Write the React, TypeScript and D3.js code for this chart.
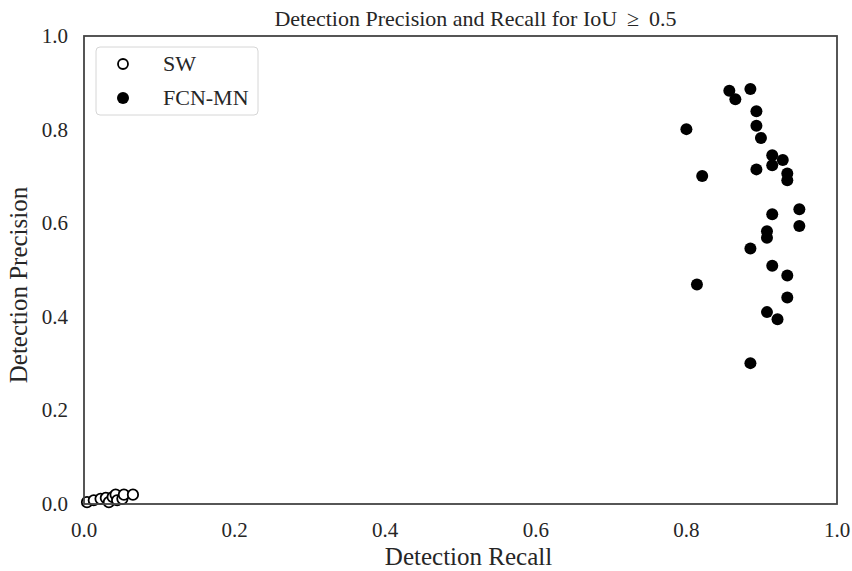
import * as d3 from 'd3';
import { useEffect, useRef } from 'react';

// SW (hollow markers): [recall, precision]
const swRecall = [0.004, 0.013, 0.022, 0.029, 0.033, 0.038, 0.042, 0.044, 0.051, 0.053, 0.065];
const swPrecision = [0.004, 0.008, 0.011, 0.013, 0.004, 0.015, 0.020, 0.008, 0.011, 0.020, 0.020];

// FCN-MN (filled markers)
const fcnRecall = [
  0.857, 0.865, 0.885, 0.893, 0.800, 0.893, 0.899, 0.914, 0.928, 0.914, 0.893, 0.821,
  0.934, 0.934, 0.950, 0.950, 0.914, 0.907, 0.907, 0.885, 0.914, 0.934, 0.814, 0.934,
  0.907, 0.921, 0.885,
];
const fcnPrecision = [
  0.883, 0.865, 0.887, 0.839, 0.801, 0.808, 0.782, 0.745, 0.735, 0.724, 0.715, 0.701,
  0.706, 0.692, 0.630, 0.594, 0.619, 0.583, 0.569, 0.546, 0.509, 0.488, 0.469, 0.441,
  0.410, 0.395, 0.301,
];

const ticks = [0, 0.2, 0.4, 0.6, 0.8, 1.0];

const W = 852, H = 571;
const margin = { left: 84, right: 15, top: 36, bottom: 67 };
const FONT = '"Liberation Serif", "DejaVu Serif", serif';

export default function App() {
  const ref = useRef<SVGSVGElement>(null);

  useEffect(() => {
    const svg = d3.select(ref.current);
    svg.selectAll('*').remove();

    const x = d3.scaleLinear().domain([0, 1]).range([margin.left, W - margin.right]);
    const y = d3.scaleLinear().domain([0, 1]).range([H - margin.bottom, margin.top]);

    svg.append('rect').attr('width', W).attr('height', H).attr('fill', '#fff');

    // tick labels
    svg.append('g').selectAll('text').data(ticks).join('text')
      .attr('x', d => x(d)).attr('y', y(0) + 33)
      .attr('text-anchor', 'middle')
      .style('font-family', FONT).style('font-size', '21px').style('fill', '#262626')
      .text(d => d.toFixed(1));

    svg.append('g').selectAll('text').data(ticks).join('text')
      .attr('x', x(0) - 16).attr('y', d => y(d) + 7)
      .attr('text-anchor', 'end')
      .style('font-family', FONT).style('font-size', '21px').style('fill', '#262626')
      .text(d => d.toFixed(1));

    // points
    const r = 6;
    svg.append('g').selectAll('circle').data(d3.range(fcnRecall.length)).join('circle')
      .attr('cx', i => x(fcnRecall[i])).attr('cy', i => y(fcnPrecision[i]))
      .attr('r', r).attr('fill', '#000');

    svg.append('g').selectAll('circle').data(d3.range(swRecall.length)).join('circle')
      .attr('cx', i => x(swRecall[i])).attr('cy', i => y(swPrecision[i]))
      .attr('r', r - 0.8).attr('fill', '#fff').attr('stroke', '#000').attr('stroke-width', 1.8);

    // frame
    svg.append('rect')
      .attr('x', x(0)).attr('y', y(1))
      .attr('width', x(1) - x(0)).attr('height', y(0) - y(1))
      .attr('fill', 'none').attr('stroke', '#444').attr('stroke-width', 1.8);

    // title and axis labels
    svg.append('text')
      .attr('x', (x(0) + x(1)) / 2 + 15).attr('y', 26)
      .attr('text-anchor', 'middle')
      .style('font-family', FONT).style('font-size', '22px').style('fill', '#262626')
      .text('Detection Precision and Recall for IoU \u2009\u2265\u2009 0.5');

    svg.append('text')
      .attr('x', (x(0) + x(1)) / 2 + 8).attr('y', 565)
      .attr('text-anchor', 'middle')
      .style('font-family', FONT).style('font-size', '25px').style('fill', '#262626')
      .text('Detection Recall');

    svg.append('text')
      .attr('transform', `translate(27, ${(y(0) + y(1)) / 2 + 15}) rotate(-90)`)
      .attr('text-anchor', 'middle')
      .style('font-family', FONT).style('font-size', '25px').style('fill', '#262626')
      .text('Detection Precision');

    // legend
    const lg = svg.append('g');
    lg.append('rect')
      .attr('x', 96).attr('y', 47).attr('width', 162).attr('height', 68)
      .attr('rx', 4).attr('fill', '#fff').attr('stroke', '#d6d6d6').attr('stroke-width', 1);
    lg.append('circle').attr('cx', 123).attr('cy', 64).attr('r', 5)
      .attr('fill', '#fff').attr('stroke', '#000').attr('stroke-width', 1.8);
    lg.append('circle').attr('cx', 123).attr('cy', 98).attr('r', 6).attr('fill', '#000');
    lg.append('text').attr('x', 163).attr('y', 71)
      .style('font-family', FONT).style('font-size', '22px').style('fill', '#262626').text('SW');
    lg.append('text').attr('x', 163).attr('y', 105)
      .style('font-family', FONT).style('font-size', '22px').style('fill', '#262626').text('FCN-MN');
  }, []);

  return <svg ref={ref} width={W} height={H} style={{ display: 'block', position: 'absolute', left: 0, top: 0 }} />;
}
